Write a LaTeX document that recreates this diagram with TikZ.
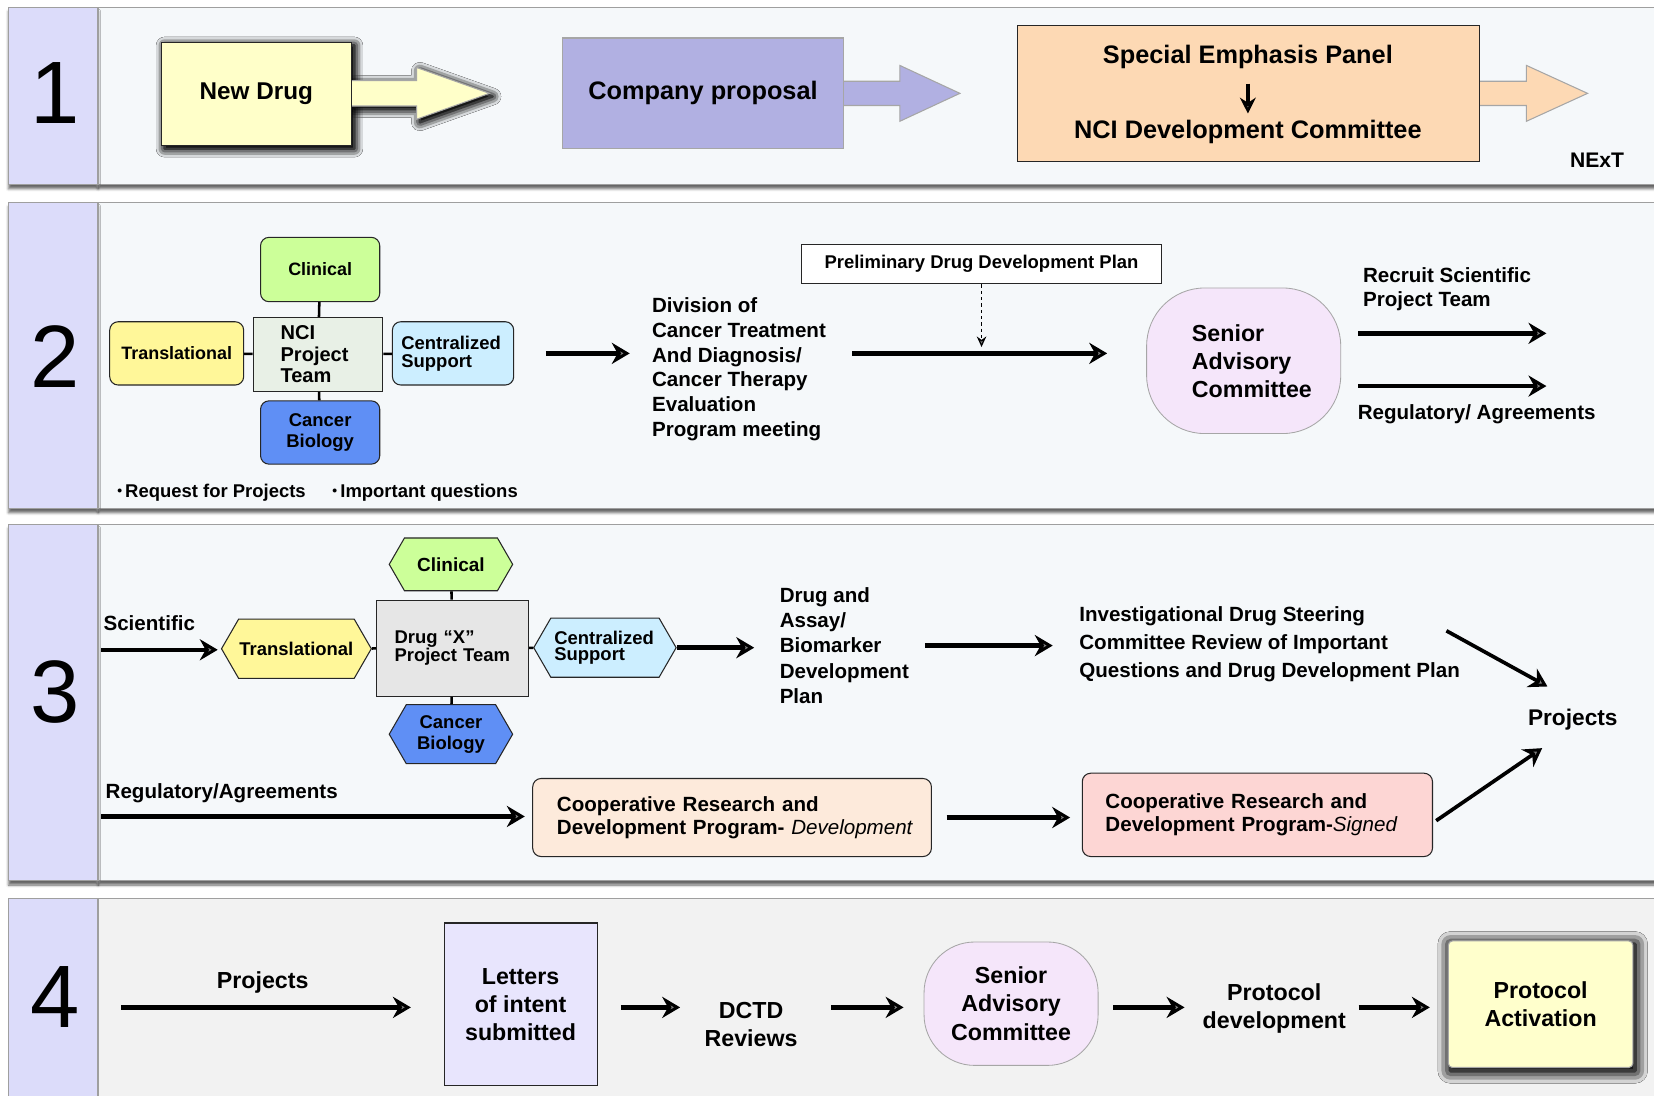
\documentclass[tikz,border=0pt]{standalone}
\usepackage{fontspec}
\setmainfont{Liberation Sans}
\usetikzlibrary{arrows.meta,shapes.symbols,shadows,shadows.blur}

\definecolor{bodybg}{HTML}{F5F8FA}
\definecolor{numbg}{HTML}{DCDCFA}
\definecolor{greybg}{HTML}{F2F2F2}
\definecolor{ndyellow}{HTML}{FFFFC9}
\definecolor{compblue}{HTML}{B1B0E2}
\definecolor{peach}{HTML}{FDD9B4}
\definecolor{clingreen}{HTML}{CCFF99}
\definecolor{trayellow}{HTML}{FFF799}
\definecolor{cenblue}{HTML}{CCEEFF}
\definecolor{biolblue}{HTML}{5F8FF5}
\definecolor{teamgreen}{HTML}{E8F0E6}
\definecolor{senpink}{HTML}{F5E6FA}
\definecolor{drugxgray}{HTML}{E6E6E6}
\definecolor{crdevpeach}{HTML}{FDEADB}
\definecolor{crsignpink}{HTML}{FDD6D4}
\definecolor{letterlav}{HTML}{E8E5FD}
\definecolor{actyellow}{HTML}{FFFFCC}

\newcommand{\txtsz}[2]{\fontsize{#1}{#2}\selectfont\bfseries}

\begin{document}
\begin{tikzpicture}[x=1pt, y=-1pt,
    panel/.style={draw=gray!75, line width=1.2pt},
    pshadow/.style={blur shadow={shadow xshift=0pt, shadow yshift=-4pt, shadow blur radius=2.5pt, shadow opacity=60}},
    softshadow/.style={blur shadow={shadow xshift=3pt, shadow yshift=-3pt, shadow blur radius=8pt, shadow opacity=100}},
    darkshadow/.style={blur shadow={shadow xshift=2pt, shadow yshift=-3pt, shadow blur radius=12pt, shadow opacity=100}},
    num/.style={font=\fontsize{84}{84}\selectfont, inner sep=0pt},
    lbl/.style={inner sep=0pt},
    box/.style={draw=black!85, line width=1pt, inner sep=0pt},
    rbox/.style={box, rounded corners=8pt},
    hexa/.style={box, shape=signal, signal to=east and west, signal pointer angle=120},
    senior/.style={draw=gray!70, line width=0.8pt, fill=senpink, rounded corners=55pt, inner sep=0pt},
    bigarr/.style={draw=gray!70, line width=1pt},
    arr/.style={line width=4.2pt, -{Stealth[length=17pt,width=20pt]}},
    link/.style={line width=2.4pt},
  ]
  \useasboundingbox (0,0) rectangle (1568,1039);

  % Panel frames
  \draw[panel, fill=bodybg, pshadow] (93,7) rectangle (1590,175);
  \draw[panel, fill=numbg, pshadow] (8,7) rectangle (93,175);
  \draw[panel, fill=bodybg, pshadow] (93,192) rectangle (1590,482);
  \draw[panel, fill=numbg, pshadow] (8,192) rectangle (93,482);
  \draw[panel, fill=bodybg, pshadow] (93,497) rectangle (1590,835);
  \draw[panel, fill=numbg, pshadow] (8,497) rectangle (93,835);
  \draw[panel, fill=greybg] (93,852) rectangle (1590,1050);
  \draw[panel, fill=numbg] (8,852) rectangle (93,1050);

  \node[num] (n1) at (52,88) {1};
  \node[num] (n2) at (52,338) {2};
  \node[num] (n3) at (52,656) {3};
  \node[num] (n4) at (52,945) {4};

  % Step 1
  \path[softshadow, softshadow] (153,40) rectangle (333,138);
  \path[softshadow, softshadow] (333,76.5) -- (395,76.5) -- (395,64) -- (464,88.5) -- (395,113) -- (395,100.5) -- (333,100.5) -- cycle;
  \draw[bigarr, fill=ndyellow] (330,76.5) -- (395,76.5) -- (395,64) -- (464,88.5) -- (395,113) -- (395,100.5) -- (330,100.5) -- cycle;
  \node[box, fill=ndyellow, minimum width=180pt, minimum height=98pt, font=\txtsz{23}{27}] (newdrug) at (243,89) {New Drug};

  \draw[bigarr, fill=compblue] (797,77) -- (853,77) -- (853,62) -- (910,88.5) -- (853,115) -- (853,100) -- (797,100) -- cycle;
  \node[box, draw=gray!70, fill=compblue, minimum width=267pt, minimum height=105pt, font=\txtsz{24}{28}] (comp) at (666.5,88.5) {Company proposal};

  \draw[bigarr, fill=peach] (1400,77) -- (1447,77) -- (1447,62) -- (1505,88.5) -- (1447,115) -- (1447,100) -- (1400,100) -- cycle;
  \node[box, fill=peach, minimum width=438pt, minimum height=129pt] (spec) at (1184,88.5) {};
  \node[lbl, font=\txtsz{24}{28}] (sep) at (1183,54) {Special Emphasis Panel};
  \node[lbl, font=\txtsz{24}{28}] (ncidev) at (1183,125) {NCI Development Committee};
  \draw[line width=4pt, -{Stealth[length=15pt,width=15pt]}, shorten <=14pt, shorten >=6pt] (sep) -- (ncidev);
  \node[lbl, font=\txtsz{20}{24}] (next) at (1514,152) {NExT};

  % Step 2
  \node[rbox, fill=clingreen, minimum width=113pt, minimum height=61pt, font=\txtsz{17}{20}] (clin2) at (303.5,255.5) {Clinical};
  \node[box, fill=teamgreen, minimum width=123pt, minimum height=70pt, text width=71pt, align=left, font=\txtsz{19}{20.5}] (team2) at (301.5,336) {NCI\\Project\\Team};
  \node[rbox, fill=trayellow, minimum width=127pt, minimum height=60pt, font=\txtsz{17}{20}] (tr2) at (167.5,335) {Translational};
  \node[rbox, fill=cenblue, minimum width=115pt, minimum height=60pt, text width=98pt, align=left, font=\txtsz{17.5}{17}] (cs2) at (429.5,335) {Centralized\\Support};
  \node[rbox, fill=biolblue, minimum width=113pt, minimum height=60pt, align=center, font=\txtsz{17.5}{20}] (cb2) at (303.5,410) {Cancer\\Biology};
  \draw[link] (clin2) -- (team2);
  \draw[link] (tr2) -- (team2);
  \draw[link] (team2) -- (cs2);
  \draw[link] (team2) -- (cb2);

  \node[lbl, anchor=west, font=\txtsz{17.5}{20}] (rfp) at (111,467) {{\fontsize{13}{13}\selectfont\raisebox{1.5pt}{\textbullet}}\,Request for Projects};
  \node[lbl, anchor=west, font=\txtsz{17.5}{20}] (impq) at (315,467) {{\fontsize{13}{13}\selectfont\raisebox{1.5pt}{\textbullet}}\,Important questions};

  \node[lbl, anchor=west, align=left, font=\txtsz{19.5}{23.6}] (dctd) at (618,350) {Division of\\Cancer Treatment\\And Diagnosis/\\Cancer Therapy\\Evaluation\\Program meeting};
  \draw[arr, shorten <=30pt, shorten >=21pt] (cs2.east) -- (cs2.east -| dctd.west);

  \node[box, fill=white, line width=1.3pt, minimum width=341pt, minimum height=37pt, font=\txtsz{17.5}{20}] (prelim) at (930.5,250.5) {Preliminary Drug Development Plan};
  \node[senior, minimum width=184pt, minimum height=138pt, text width=98pt, align=left, font=\txtsz{22}{26.5}] (sac2) at (1179,342) {Senior\\Advisory\\Committee};
  \draw[arr, shorten <=25pt, shorten >=37pt] (dctd.east |- cs2.east) -- (sac2.west |- cs2.east);
  \draw[line width=1.2pt, dashed, -{Stealth[length=10pt,width=9pt]}, shorten >=6pt] (prelim.south) -- (prelim.south |- cs2.east);

  \coordinate (rec1) at (1466,316);
  \coordinate (reg1) at (1466,366);
  \draw[arr, shorten <=16pt] (sac2.east |- rec1) -- (rec1);
  \draw[arr, shorten <=16pt] (sac2.east |- reg1) -- (reg1);
  \node[lbl, anchor=west, align=left, font=\txtsz{19.5}{23}] (recruit) at (1292,274) {Recruit Scientific\\Project Team};
  \node[lbl, anchor=west, font=\txtsz{19.5}{23}] (reg2) at (1287,393) {Regulatory/ Agreements};

  % Step 3
  \node[hexa, fill=clingreen, minimum width=117pt, minimum height=50pt, font=\txtsz{18}{20}] (clin3) at (427.5,535) {Clinical};
  \node[box, fill=drugxgray, line width=1.3pt, minimum width=144pt, minimum height=91pt, text width=110pt, align=left, font=\txtsz{17.5}{16}] (drugx) at (429,614.5) {Drug “X”\\Project Team};
  \node[hexa, fill=trayellow, minimum width=142pt, minimum height=56pt, font=\txtsz{17.5}{20}] (tr3) at (281,615) {Translational};
  \node[hexa, fill=cenblue, minimum width=135pt, minimum height=56pt, text width=96pt, align=left, font=\txtsz{17.5}{16}] (cs3) at (573.5,614) {Centralized\\Support};
  \node[hexa, fill=biolblue, minimum width=117pt, minimum height=56pt, align=center, font=\txtsz{17.5}{20}] (cb3) at (427.5,696) {Cancer\\Biology};
  \draw[link] (clin3) -- (drugx);
  \draw[link] (tr3) -- (drugx);
  \draw[link] (drugx) -- (cs3);
  \draw[link] (drugx) -- (cb3);

  \node[lbl, anchor=west, font=\txtsz{19.5}{23}] (sci) at (98,591) {Scientific};
  \coordinate (sci0) at (96,616);
  \draw[arr, shorten >=3pt] (sci0) -- (sci0 -| tr3.west);

  \node[lbl, anchor=west, align=left, font=\txtsz{19.5}{24}] (dab) at (739,612) {Drug and\\Assay/\\Biomarker\\Development\\Plan};
  \draw[arr, shorten >=24pt] (cs3.east) -- (cs3.east -| dab.west);
  \node[lbl, anchor=west, align=left, font=\txtsz{19.5}{26.5}] (idsc) at (1023,611) {Investigational Drug Steering\\Committee Review of Important\\Questions and Drug Development Plan};
  \draw[arr, shorten <=15pt, shorten >=25pt] (dab.east) -- (dab.east -| idsc.west);

  \node[lbl, font=\txtsz{21.5}{25}] (proj3) at (1491,682) {Projects};
  \draw[arr, line width=3.5pt] ([shift={(-13,-13)}]idsc.east) -- ([shift={(-24,-21)}]proj3.north);

  \node[lbl, anchor=west, font=\txtsz{19.5}{23}] (reg3) at (100,752) {Regulatory/Agreements};
  \node[rbox, fill=crdevpeach, minimum width=378pt, minimum height=74pt, text width=332pt, align=left, font=\txtsz{19.5}{22}] (crdev) at (694,775) {Cooperative Research and\\\mbox{Development Program- {\mdseries\itshape Development}}};
  \node[rbox, fill=crsignpink, minimum width=332pt, minimum height=79pt, text width=288pt, align=left, font=\txtsz{19.5}{22}] (crsign) at (1192,772.5) {Cooperative Research and\\\mbox{Development Program-{\mdseries\itshape Signed}}};
  \coordinate (reg3s) at (96,774);
  \draw[arr, shorten >=7pt] (reg3s) -- (reg3s -| crdev.west);
  \draw[arr, shorten <=14pt, shorten >=11pt] (crdev.east) -- (crdev.east -| crsign.west);
  \draw[arr, line width=3.5pt] ([shift={(3,5.5)}]crsign.east) -- ([shift={(-29,17)}]proj3.south);

  % Step 4
  \node[lbl, font=\txtsz{22}{26}] (proj4) at (249,931) {Projects};
  \coordinate (p4s) at (115,955);
  \node[box, fill=letterlav, minimum width=145pt, minimum height=154pt, align=center, font=\txtsz{22}{26.5}] (letters) at (493.5,952) {Letters\\of intent\\submitted};
  \draw[arr, shorten >=31pt] (p4s) -- (p4s -| letters.west);
  \node[lbl, align=center, font=\txtsz{22}{27}] (dctd4) at (712,971) {DCTD\\Reviews};
  \node[senior, rounded corners=48pt, minimum width=165pt, minimum height=117pt, align=center, font=\txtsz{22}{27}] (sac4) at (958.5,951.5) {Senior\\Advisory\\Committee};
  \node[lbl, align=center, font=\txtsz{22}{27}] (protdev) at (1208,956) {Protocol\\development};
  \path[darkshadow, darkshadow] (1373,892) rectangle (1548,1012);
  \node[box, draw=gray!70, rounded corners=4pt, fill=actyellow, minimum width=175pt, minimum height=120pt, align=center, font=\txtsz{22}{27}] (protact) at (1460.5,952) {Protocol\\Activation};

  \draw[arr, shorten <=22pt, shorten >=23pt] (letters.east |- p4s) -- (p4s -| dctd4.west);
  \draw[arr, shorten <=32pt, shorten >=19pt] (dctd4.east |- p4s) -- (p4s -| sac4.west);
  \draw[arr, shorten <=14pt, shorten >=17pt] (sac4.east |- p4s) -- (p4s -| protdev.west);
  \draw[arr, shorten <=12pt, shorten >=17pt] (protdev.east |- p4s) -- (p4s -| protact.west);
\end{tikzpicture}
\end{document}
